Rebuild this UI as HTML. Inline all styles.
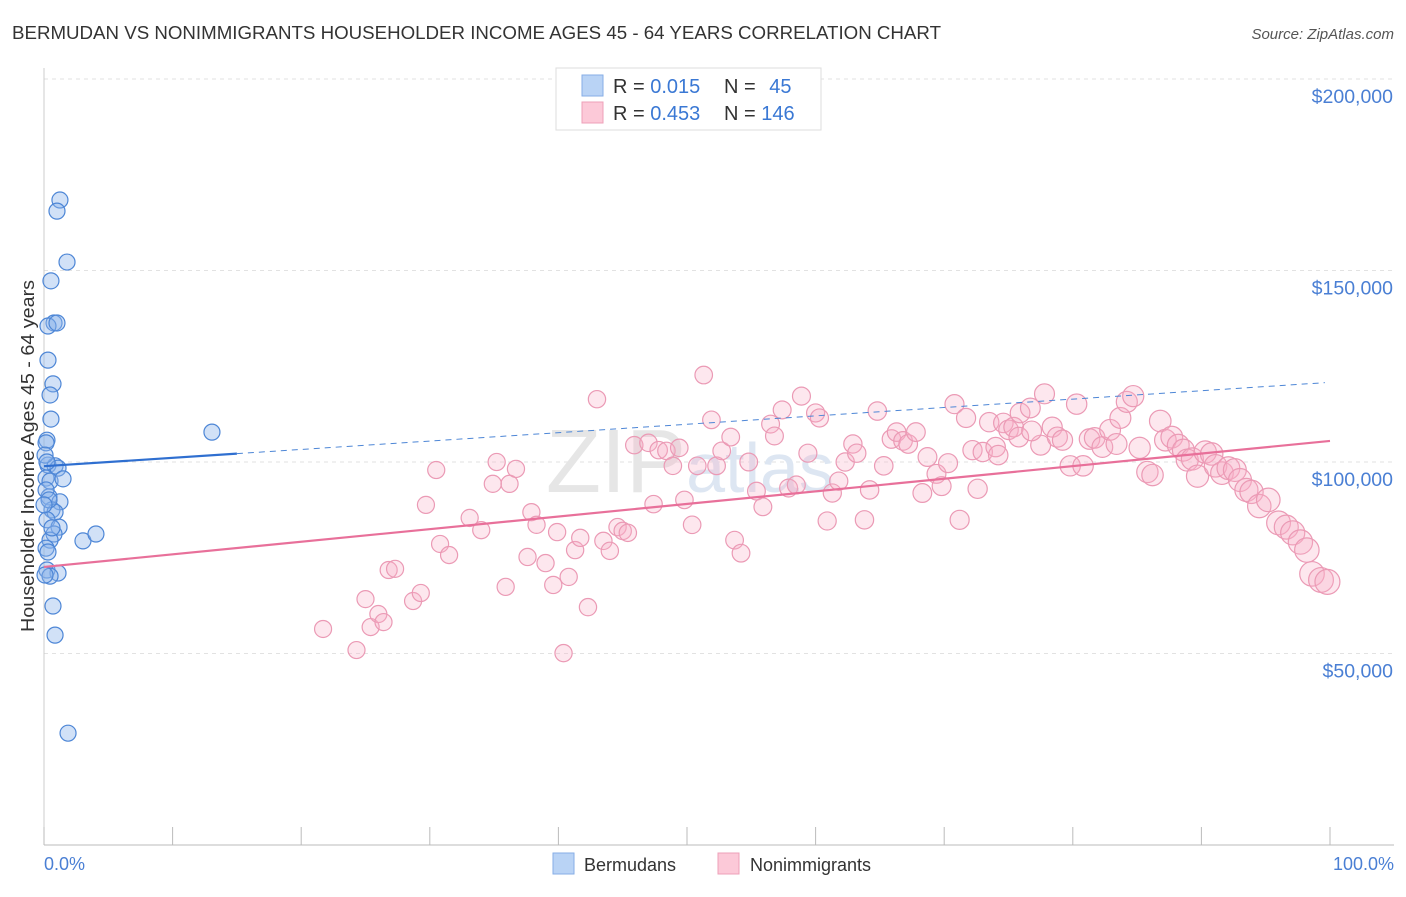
<!DOCTYPE html>
<html><head><meta charset="utf-8">
<style>
body{margin:0;background:#fff;font-family:"Liberation Sans",sans-serif;}
svg text{font-family:"Liberation Sans",sans-serif;}
</style></head>
<body>
<svg id="chart" width="1406" height="892">
<text x="12" y="39" font-size="18" fill="#333" textLength="929" lengthAdjust="spacingAndGlyphs">BERMUDAN VS NONIMMIGRANTS HOUSEHOLDER INCOME AGES 45 - 64 YEARS CORRELATION CHART</text>
<text x="1394" y="39" font-size="15" fill="#555" font-style="italic" text-anchor="end">Source: ZipAtlas.com</text>
<g id="grid"></g>
<text x="690" y="492" font-size="90" fill="#e6e6e6" text-anchor="middle" font-family="Liberation Serif">ZIP<tspan font-family="Liberation Sans" font-size="70" fill="#dde6f2">atlas</tspan></text>
<g id="marks"></g>
<text transform="translate(34,456) rotate(-90)" font-size="18" fill="#333" text-anchor="middle" textLength="352" lengthAdjust="spacingAndGlyphs">Householder Income Ages 45 - 64 years</text>
<text x="44" y="870" font-size="18" fill="#4a7fd4">0.0%</text>
<text x="1394" y="870" font-size="18" fill="#4a7fd4" text-anchor="end">100.0%</text>
<g>
<rect x="556" y="68" width="265" height="62" fill="#fff" stroke="#ddd"/>
<rect x="582" y="75" width="21" height="21" fill="#b9d3f5" stroke="#86aee6"/>
<rect x="582" y="102" width="21" height="21" fill="#fcc9d8" stroke="#eea0b8"/>
<text x="613" y="93" font-size="20" fill="#333">R = <tspan fill="#3a78d4">0.015</tspan></text>
<text x="724" y="93" font-size="20" fill="#333">N = <tspan fill="#3a78d4" dx="8">45</tspan></text>
<text x="613" y="120" font-size="20" fill="#333">R = <tspan fill="#3a78d4">0.453</tspan></text>
<text x="724" y="120" font-size="20" fill="#333">N = <tspan fill="#3a78d4">146</tspan></text>
</g>
<g>
<rect x="553" y="853" width="21" height="21" fill="#b9d3f5" stroke="#86aee6"/>
<text x="584" y="871" font-size="18" fill="#333">Bermudans</text>
<rect x="718" y="853" width="21" height="21" fill="#fcc9d8" stroke="#eea0b8"/>
<text x="750" y="871" font-size="18" fill="#333">Nonimmigrants</text>
</g>
</svg>
<script>
const yTicks=[50000,100000,150000,200000];
const yTickLabels=["$50,000","$100,000","$150,000","$200,000"];
const blueX=[1.24,1.01,1.79,0.54,0.78,0.31,1.01,0.31,0.70,0.47,0.54,0.23,0.16,0.31,0.86,1.09,0.16,0.47,1.48,0.39,1.24,0.62,0.86,0.23,1.17,0.78,0.47,3.03,4.04,0.16,0.31,0.23,1.09,0.47,0.70,0.86,1.87,13.06,0.08,0.16,0.39,0.08,0.62,0.23,0];
const blueY=[168.4,165.5,152.2,147.3,136.3,135.5,136.3,126.6,120.4,117.5,111.2,105.7,105.0,99.2,99.0,98.4,95.8,95.0,95.6,90.9,89.6,87.5,86.9,84.9,83.0,81.2,79.6,79.4,81.2,77.5,76.5,71.8,71.0,70.2,62.4,54.8,29.2,107.8,101.8,92.7,90.1,70.5,82.8,100,88.8];
const pinkX=[21.7,24.3,25.0,25.4,26.0,26.4,26.8,27.3,28.7,29.3,29.7,30.5,30.8,31.5,33.1,34.0,34.9,35.2,36.2,36.7,35.9,37.6,37.9,38.3,39.0,39.6,39.9,40.4,40.8,41.3,41.7,42.3,43.0,43.5,44.0,44.6,45.0,45.4,45.9,47.0,47.4,47.8,48.4,48.9,49.4,49.8,50.4,50.8,51.3,51.9,52.3,52.7,53.4,53.7,54.2,54.8,55.4,55.9,56.5,56.8,57.4,57.9,58.5,58.9,59.4,60.0,60.3,60.9,61.3,61.8,62.3,62.9,63.2,63.8,64.2,64.8,65.3,65.9,66.3,66.8,67.2,67.8,68.3,68.7,69.4,69.8,70.3,70.8,71.2,71.7,72.2,72.6,73.0,73.5,74.0,74.6,75.0,75.4,75.9,76.7,77.5,77.8,78.4,78.8,79.2,79.8,80.3,80.8,81.3,81.7,82.3,82.9,83.4,83.7,84.2,84.7,85.2,85.8,86.2,86.8,87.2,87.7,88.2,88.6,88.9,89.3,89.7,90.3,90.8,91.1,91.6,92.1,92.6,93.0,93.5,93.9,94.5,95.2,96.0,96.6,97.1,97.7,98.2,98.6,99.3,99.8,75.8,76.8,74.2];
const pinkY=[56.4,50.9,64.2,56.9,60.3,58.2,71.8,72.1,63.7,65.8,88.8,97.9,78.6,75.7,85.4,82.2,94.3,100,94.3,98.2,67.4,75.2,86.9,83.6,73.6,67.9,81.7,50.1,70.0,77.0,80.2,62.1,116.4,79.4,76.8,83.0,82.0,81.5,104.4,105.0,89.0,103.1,102.9,99.0,103.7,90.1,83.6,99.0,122.7,111.0,99.0,102.9,106.5,79.6,76.2,100,92.4,88.3,109.9,106.8,113.6,93.2,94.0,117.2,102.3,112.8,111.5,84.6,91.9,95.0,100,104.7,102.3,84.9,92.7,113.3,99.0,106.0,107.8,105.5,104.7,107.8,91.9,101.3,96.9,93.7,99.7,115.1,84.9,111.5,103.1,93.0,102.6,110.4,103.9,110.2,108.4,109.1,112.8,114.1,104.4,117.8,109.1,106.5,105.7,99.0,115.1,99.0,106.0,106.3,103.9,108.4,104.7,111.5,115.7,117.2,103.7,97.4,96.6,110.7,105.7,106.5,104.4,103.1,100.5,100.8,96.3,102.6,102.1,99.0,97.1,98.4,97.9,95.3,92.7,92.2,88.5,90.1,84.1,83.0,81.5,79.1,77.0,70.8,69.2,68.7,106.5,108.1,101.8];
const blueTrend=[98.9,120.8]; // value ($k) at 0% and 100%
const pinkTrend=[72.6,105.5];
const NS="http://www.w3.org/2000/svg";
const xs=p=>44+p*12.86;
const ys=v=>462-(v-100)*3.83; // v in $k
const grid=document.getElementById('grid'),marks=document.getElementById('marks');
function mk(tag,attrs,parent){const e=document.createElementNS(NS,tag);for(const k in attrs)e.setAttribute(k,attrs[k]);parent.appendChild(e);return e;}
mk('line',{x1:44,x2:1394,y1:79,y2:79,stroke:'#ddd','stroke-dasharray':'4,4'},grid);
yTicks.forEach((t,i)=>{const y=ys(t/1000);
 const l=mk('line',{x1:44,x2:1394,y1:y,y2:y,stroke:'#e2e2e2','stroke-dasharray':'4,4'},grid);
 
 
 const tx=mk('text',{x:1393,y:y+24,'font-size':19.5,fill:'#4a7fd4','text-anchor':'end'},grid);
 tx.textContent=yTickLabels[i];
 
 
});
const ax=mk('line',{x1:44,x2:1394,y1:845,y2:845,stroke:'#bbb'},grid);


const ay=mk('line',{x1:44,x2:44,y1:68,y2:845,stroke:'#ccc'},grid);


for(let i=0;i<=10;i++){const x=xs(i*10);
 const t=mk('line',{x1:x,x2:x,y1:827,y2:845,stroke:'#bbb'},grid);
 
 }
pinkX.forEach((p,i)=>{const r=8.5+4*Math.pow(p/100,4);
 const c=mk('circle',{cx:xs(p),cy:ys(pinkY[i]),r:r,fill:'rgba(248,175,198,0.3)',stroke:'#eb9ab5','stroke-width':1.2},marks);
 
 });
blueX.forEach((p,i)=>{
 const c=mk('circle',{cx:xs(p),cy:ys(blueY[i]),r:8,fill:'rgba(140,180,235,0.4)',stroke:'#4d86d6','stroke-width':1.2},marks);
 
 });
const bAt=p=>blueTrend[0]+(blueTrend[1]-blueTrend[0])*p/100;
const pAt=p=>pinkTrend[0]+(pinkTrend[1]-pinkTrend[0])*p/100;
const pl=mk('line',{x1:xs(0),y1:ys(pAt(0)),x2:xs(100),y2:ys(pAt(100)),stroke:'#e8709a','stroke-width':2.2},marks);


const bl=mk('line',{x1:xs(0),y1:ys(bAt(0)),x2:xs(15),y2:ys(bAt(15)),stroke:'#2f6fd0','stroke-width':2.2},marks);


const bd=mk('line',{x1:xs(15),y1:ys(bAt(15)),x2:xs(99.6),y2:ys(bAt(99.6)),stroke:'#4d86d6','stroke-width':1,'stroke-dasharray':'6,5'},marks);


</script>
</body></html>
